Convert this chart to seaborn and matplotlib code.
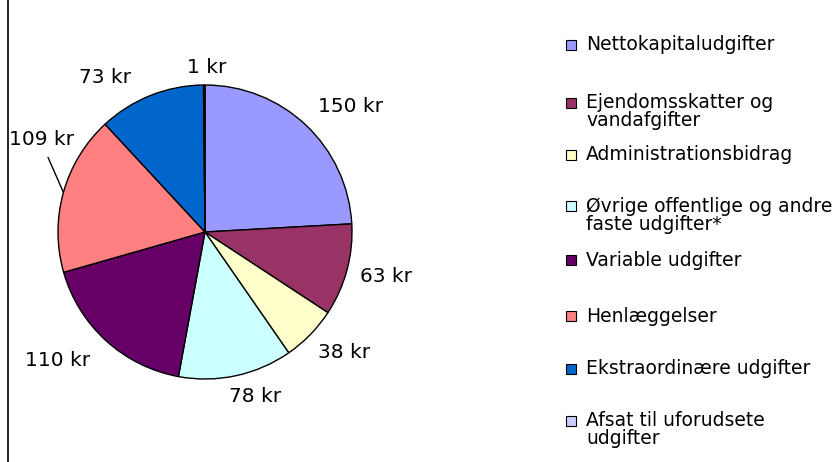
import matplotlib
matplotlib.use("Agg")
import numpy as np
import seaborn as sns
import matplotlib.pyplot as plt
from matplotlib.patches import Rectangle

# ---- data ----
categories = [
    "Nettokapitaludgifter",
    "Ejendomsskatter og\nvandafgifter",
    "Administrationsbidrag",
    "Øvrige offentlige og andre\nfaste udgifter*",
    "Variable udgifter",
    "Henlæggelser",
    "Ekstraordinære udgifter",
    "Afsat til uforudsete\nudgifter",
]
values = [150, 63, 38, 78, 110, 109, 73, 1]
value_labels = [f"{v} kr" for v in values]
colors = ["#9999FF", "#993366", "#FFFFCC", "#CCFFFF",
          "#660066", "#FF8080", "#0066CC", "#CCCCFF"]

# ---- layout (pixel-based canvas) ----
W, H = 838, 462
sns.set_theme(style="white")
plt.rcParams["font.family"] = ["DejaVu Sans"]

fig = plt.figure(figsize=(W / 100, H / 100), dpi=100)
ax = fig.add_axes([0, 0, 1, 1])

cx, cy, R = 205, H - 232, 147
wedges, _ = ax.pie(values, colors=colors, startangle=90, counterclock=False,
                   radius=R, center=(cx, cy),
                   wedgeprops=dict(edgecolor="black", linewidth=1.0))
ax.set_xlim(0, W)
ax.set_ylim(0, H)
ax.set_aspect("auto")
ax.axis("off")

# label placement: (angle shift in degrees, radial factor)
label_layout = [(-5.8, 1.31), (1.3, 1.27), (3.3, 1.25), (4.9, 1.17),
                (-6.8, 1.33), (-13.8, 1.28), (11.3, 1.25), (-1.0, 1.12)]
leader = [False, False, False, False, False, True, False, False]

for w, lab, (dang, fac), ld in zip(wedges, value_labels, label_layout, leader):
    mid = np.deg2rad((w.theta1 + w.theta2) / 2)
    ang = mid + np.deg2rad(dang)
    tx, ty = cx + fac * R * np.cos(ang), cy + fac * R * np.sin(ang)
    if ld:
        ex, ey = cx + R * np.cos(mid), cy + R * np.sin(mid)
        ax.annotate(lab, xy=(ex, ey), xytext=(tx, ty), ha="center", va="center",
                    fontsize=14.5, color="black",
                    arrowprops=dict(arrowstyle="-", color="black", lw=1.0,
                                    shrinkA=4, shrinkB=0, relpos=(0.55, 0)))
    else:
        ax.text(tx, ty, lab, ha="center", va="center", fontsize=14.5, color="black")

# legend (manual, Excel-like spacing)
leg_y = [45, 103, 155, 206, 260, 316, 369, 421]
for cat, col, y in zip(categories, colors, leg_y):
    yy = H - y
    ax.add_patch(Rectangle((566, yy - 5), 10, 10, facecolor=col,
                           edgecolor="black", linewidth=0.8, clip_on=False))
    for i, line in enumerate(cat.split("\n")):
        ax.text(586, yy - i * 18, line, ha="left", va="center",
                fontsize=13.5, color="black")

# left border of chart area
ax.plot([8, 8], [0, H], color="black", lw=1.2, solid_capstyle="butt")

fig.savefig("out.png", dpi=100)
